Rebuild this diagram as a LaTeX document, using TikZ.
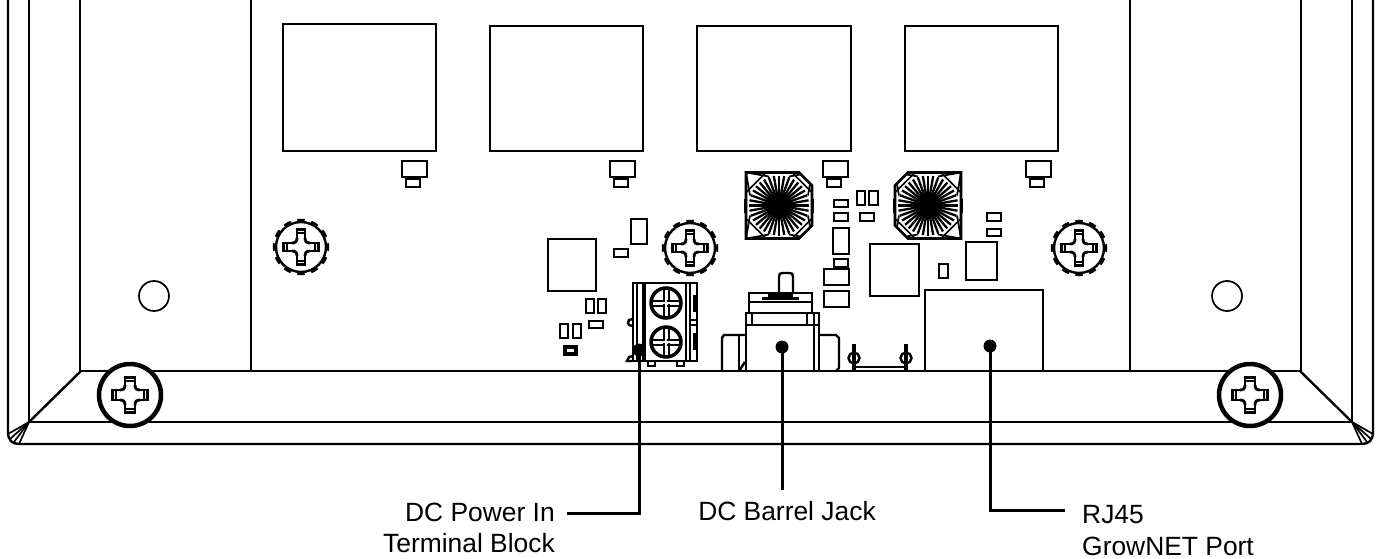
\documentclass[tikz,border=0pt]{standalone}
\usepackage{fontspec}
\setmainfont{Liberation Sans}
\tikzset{
  part/.style={line width=2.4pt,line join=miter},
  thinpart/.style={line width=1.7pt},
  lead/.style={line width=3pt},
  leaddot/.style={circle,fill=black,inner sep=0pt,minimum size=13pt},
  calltext/.style={font=\fontsize{26.4}{32}\selectfont,inner sep=0pt},
}
\begin{document}
\begin{tikzpicture}[x=1pt,y=-1pt]
\useasboundingbox (0,0) rectangle (1381,559);
\fill[white] (0,0) rectangle (1381,559);
% housing
\draw[part] (8,0) -- (8,432) .. controls (8,440) and (12,444) .. (19,444) -- (1362,444) .. controls (1369,444) and (1373,440) .. (1373,432) -- (1373,0);
\foreach \x in {29,80,251,1130,1301,1352} {
\draw[part] (\x,0) -- (\x,371);
}
\draw[part] (29,371) -- (29,422);
\draw[part] (1352,371) -- (1352,422);
\draw[part] (81,371) -- (1300,371);
\draw[part] (29,422) -- (1352,422);
\draw[part] (81,371) -- (29,422);
\draw[part] (1300,371) -- (1352,422);
% corner folds
\foreach \x/\y in {8/434,10/439,14/442,19/444} {
\draw[thinpart] (29,422) -- (\x,\y);
}
\foreach \x/\y in {1373/434,1371/439,1367/442,1362/444} {
\draw[thinpart] (1352,422) -- (\x,\y);
}
\foreach \x in {154,1227} {
\draw[thinpart] (\x,296) circle[radius=15];
}
% relays
\draw[part] (283,24) rectangle (436,151);
\draw[part] (490,26) rectangle (643,151);
\draw[part] (697,26) rectangle (851,151);
\draw[part] (905,26) rectangle (1058,151);
\foreach \x in {402,610,823,1026} {
\draw[part] (\x,161) rectangle (\x+25,177);
\draw[part] (\x+4,179) rectangle (\x+18,187);
}
% inductors
\foreach \x/\s in {779/1,928/-1} {
\begin{scope}[shift={(\x,205.5)},xscale=\s]
\begin{scope}
\clip (-33,-33) -- (20,-33) -- (33,-20) -- (33,20) -- (20,33) -- (-33,33) -- cycle;
\foreach \a in {0,10,...,350} {
\draw[line width=2.3pt] (0,0) -- (\a:30);
}
\foreach \c in {0,90,180,270} {
\begin{scope}[rotate=\c]
\draw[thinpart] (-33,-33) -- (-10,-29);
\draw[thinpart] (-33,-33) -- (-29,-10);
\draw[thinpart] (-33,-13) -- (-13,-33);
\end{scope}
}
\end{scope}
\fill (0,0) circle[radius=11];
\draw[line width=2.8pt] (-33,-33) -- (20,-33) -- (33,-20) -- (33,20) -- (20,33) -- (-33,33) -- cycle;
\fill (-35,-7) rectangle (-33,7);
\fill (33,-7) rectangle (35,7);
\end{scope}
}
% small parts
\foreach \xa/\ya/\xb/\yb in {548/239/596/291,631/219/647/244,614/249/628/257,586/299/594/313,598/299/606/313,589/321/603/328,560/324/568/338,573/324/581/338,
834/200/848/207,834/213/848/221,833/228/849/254,834/259/848/267,824/269/849/285,824/291/849/307,857/191/865/205,869/191/878/205,860/213/874/221,
870/244/919/296,939/264/948/278,966/242/997/280,987/213/1001/221,987/229/1001/236} {
\draw[part] (\xa,\ya) rectangle (\xb,\yb);
}
\draw[line width=3.5pt] (565,347) rectangle (576,354);
% terminal block
\draw[part] (633,319) -- (629,320) -- (628,323) -- (629,325) -- (633,326);
\draw[part] (633,356) -- (629,357) -- (627,361) -- (633,361);
\draw[part] (648,361) rectangle (655,366);
\draw[part] (677,361) rectangle (684,366);
\draw[part] (633,283) rectangle (697,361);
\draw[thinpart] (637,283) -- (637,361);
\draw[line width=4pt] (644,283) -- (644,361);
\draw[part] (686,283) -- (686,361);
\draw[thinpart] (690,283) -- (690,361);
\draw[line width=3pt] (694,295) -- (694,312);
\draw[line width=3pt] (694,333) -- (694,350);
\draw[thinpart] (690,320) rectangle (697,325);
\foreach \y in {303,342} {
\draw[line width=3.5pt] (666,\y) circle[radius=15];
\draw[line width=2pt] (652,\y-2.5) -- (680,\y-2.5);
\draw[line width=2pt] (652,\y+2.5) -- (680,\y+2.5);
\draw[line width=2pt] (663.5,\y-14) -- (663.5,\y+14);
\draw[line width=2pt] (668.5,\y-14) -- (668.5,\y+14);
\fill[white] (661,\y-1) rectangle (671,\y+1);
\fill[white] (665,\y-7) rectangle (667,\y+7);
}
% barrel jack
\draw[part] (779,293) -- (779,277) .. controls (779,274) and (780,273) .. (782,273) -- (790,273) .. controls (792,273) and (793,274) .. (793,277) -- (793,293);
\draw[part] (749,293) rectangle (812,313);
\draw[part] (749,302) -- (812,302);
\fill (762,297) rectangle (799,300);
\fill (768,294) rectangle (793,297);
\draw[part] (746,313) rectangle (819,325);
\draw[part] (752,313) -- (752,325);
\draw[part] (807,313) -- (807,325);
\draw[part] (746,325) -- (746,371);
\draw[part] (814,313) -- (814,371);
\draw[part] (722,371) -- (722,338) -- (724,335) -- (746,335);
\draw[part] (739,335) -- (739,371);
\draw[part] (745,362) -- (739,371);
\draw[part] (819,325) -- (819,371);
\draw[part] (819,335) -- (836,335) -- (839,338) -- (839,368) -- (836,371);
% jumper
\foreach \x in {854,906} {
\draw[line width=4pt] (\x,344) -- (\x,371);
\draw[part] (\x,358) circle[radius=5.5];
}
\draw[part] (854,367) -- (906,367);
% network port
\draw[part] (925,371) -- (925,290) -- (1043,290) -- (1043,371);
% thumb screws
\foreach \x/\y in {301/247,690/248,1079/248} {
\begin{scope}[shift={(\x,\y)}]
\filldraw[fill=white,line width=2.4pt] (0,0) circle[radius=25];
\foreach \a in {0,30,...,330} {
\draw[line width=3.5pt] (\a-8:26.5) arc[start angle=\a-8,end angle=\a+8,radius=26.5];
}
\foreach \c in {0,90,180,270} {
\begin{scope}[rotate=\c]
\draw[line width=2.8pt] (-4,-9) .. controls (-4,-5.5) and (-5.5,-4) .. (-9,-4);
\draw[line width=2.8pt] (-4,-9) -- (-4,-17.5) -- (4,-17.5) -- (4,-9);
\draw[thinpart] (-4,-14) -- (4,-14);
\end{scope}
}
\end{scope}
}
\foreach \x in {130,1250} {
\begin{scope}[shift={(\x,395)}]
\filldraw[fill=white,line width=4.5pt] (0,0) circle[radius=31];
\foreach \c in {0,90,180,270} {
\begin{scope}[rotate=\c]
\draw[line width=2.8pt] (-5,-10) .. controls (-5,-6.5) and (-6.5,-5) .. (-10,-5);
\draw[line width=2.8pt] (-5,-10) -- (-5,-17.5) -- (5,-17.5) -- (5,-10);
\draw[thinpart] (-5,-14) -- (5,-14);
\end{scope}
}
\end{scope}
}
% callouts
\node[leaddot] (powerdot) at (639,350) {};
\node[leaddot] (jackdot) at (782,347) {};
\node[leaddot] (portdot) at (990,346) {};
\coordinate (powerend) at (567,513);
\coordinate (jackend) at (782,490);
\coordinate (portend) at (1065,510);
\draw[lead] (powerdot.center) |- (powerend);
\draw[lead] (jackdot.center) -- (jackend);
\draw[lead] (portdot.center) |- (portend);
\node[calltext,anchor=base east] (powerlabel) at (555,521) {DC Power In};
\node[calltext,anchor=base east] (powerlabeltwo) at (555,552) {Terminal Block};
\node[calltext,anchor=base] (jacklabel) at (787,520) {DC Barrel Jack};
\node[calltext,anchor=base west] (portlabel) at (1082,523) {RJ45};
\node[calltext,anchor=base west] (portlabeltwo) at (1082,555) {GrowNET Port};
\end{tikzpicture}
\end{document}
